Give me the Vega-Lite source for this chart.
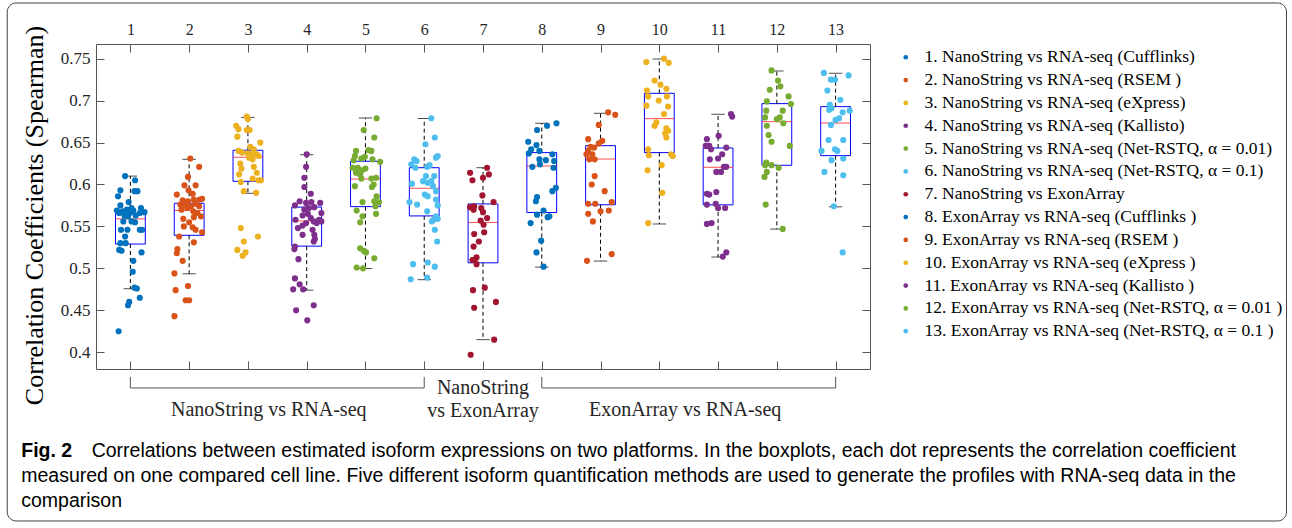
{
  "$schema": "https://vega.github.io/schema/vega-lite/v6.json",
  "width": 774,
  "height": 325,
  "autosize": {"type": "none"},
  "padding": {"left": 96, "top": 44, "right": 422, "bottom": 159},
  "background": "white",
  "title": {
    "text": "Fig. 2",
    "subtitle": [
      "\u200b\u00a0\u00a0\u00a0\u00a0\u00a0\u00a0\u00a0\u00a0\u00a0\u00a0\u00a0\u00a0\u00a0Correlations between estimated isoform expressions on two platforms. In the boxplots, each dot represents the correlation coefficient",
      "measured on one compared cell line. Five different isoform quantification methods are used to generate the profiles with RNA-seq data in the",
      "comparison"
    ],
    "orient": "bottom",
    "anchor": "start",
    "frame": "bounds",
    "offset": -79.5,
    "dx": 14.5,
    "font": "Liberation Sans",
    "fontSize": 19.5,
    "fontWeight": "bold",
    "color": "#000000",
    "subtitleFont": "Liberation Sans",
    "subtitleFontSize": 19.5,
    "subtitleColor": "#000000",
    "subtitleLineHeight": 25,
    "subtitlePadding": -19.5
  },
  "datasets": {
    "boxes": [
      {"g": 1, "label": "\u20071. NanoString vs RNA-seq (Cufflinks)", "lower": 0.4757, "q1": 0.529, "med": 0.559, "q3": 0.565, "upper": 0.61},
      {"g": 2, "label": "\u20072. NanoString vs RNA-seq (RSEM )", "lower": 0.4935, "q1": 0.5394, "med": 0.569, "q3": 0.5776, "upper": 0.63},
      {"g": 3, "label": "\u20073. NanoString vs RNA-seq (eXpress)", "lower": 0.5895, "q1": 0.6038, "med": 0.6325, "q3": 0.6408, "upper": 0.68},
      {"g": 4, "label": "\u20074. NanoString vs RNA-seq (Kallisto)", "lower": 0.474, "q1": 0.5265, "med": 0.5565, "q3": 0.573, "upper": 0.6355},
      {"g": 5, "label": "\u20075. NanoString vs RNA-seq (Net-RSTQ, α = 0.01)", "lower": 0.4998, "q1": 0.5736, "med": 0.6065, "q3": 0.6277, "upper": 0.6793},
      {"g": 6, "label": "\u20076. NanoString vs RNA-seq (Net-RSTQ, α = 0.1)", "lower": 0.4865, "q1": 0.5625, "med": 0.5955, "q3": 0.62, "upper": 0.6787},
      {"g": 7, "label": "\u20077. NanoString vs ExonArray", "lower": 0.415, "q1": 0.5066, "med": 0.5548, "q3": 0.5768, "upper": 0.62},
      {"g": 8, "label": "\u20078. ExonArray vs RNA-seq (Cufflinks )", "lower": 0.5015, "q1": 0.5666, "med": 0.622, "q3": 0.638, "upper": 0.673},
      {"g": 9, "label": "\u20079. ExonArray vs RNA-seq (RSEM )", "lower": 0.5087, "q1": 0.5758, "med": 0.6304, "q3": 0.6463, "upper": 0.6849},
      {"g": 10, "label": "10. ExonArray vs RNA-seq (eXpress )", "lower": 0.5529, "q1": 0.638, "med": 0.6785, "q3": 0.7087, "upper": 0.7496},
      {"g": 11, "label": "11. ExonArray vs RNA-seq (Kallisto )", "lower": 0.5135, "q1": 0.5757, "med": 0.6205, "q3": 0.6435, "upper": 0.6837},
      {"g": 12, "label": "12. ExonArray vs RNA-seq (Net-RSTQ, α = 0.01 )", "lower": 0.5468, "q1": 0.6229, "med": 0.6749, "q3": 0.6964, "upper": 0.7353},
      {"g": 13, "label": "13. ExonArray vs RNA-seq (Net-RSTQ, α = 0.1 )", "lower": 0.5734, "q1": 0.6344, "med": 0.6733, "q3": 0.6928, "upper": 0.7326}
    ],
    "points": [
      {"g":1,"x":0.91,"r":0.610},{"g":1,"x":1.08,"r":0.605},{"g":1,"x":0.83,"r":0.593},{"g":1,"x":1.07,"r":0.592},{"g":1,"x":1.12,"r":0.592},{"g":1,"x":0.79,"r":0.586},{"g":1,"x":0.97,"r":0.579},{"g":1,"x":0.83,"r":0.575},{"g":1,"x":0.77,"r":0.569},{"g":1,"x":0.87,"r":0.568},{"g":1,"x":0.94,"r":0.570},{"g":1,"x":1.02,"r":0.572},{"g":1,"x":1.05,"r":0.569},{"g":1,"x":1.18,"r":0.572},{"g":1,"x":1.24,"r":0.567},{"g":1,"x":1.16,"r":0.566},{"g":1,"x":0.81,"r":0.566},{"g":1,"x":0.90,"r":0.563},{"g":1,"x":0.99,"r":0.566},{"g":1,"x":1.09,"r":0.563},{"g":1,"x":0.96,"r":0.562},{"g":1,"x":0.88,"r":0.556},{"g":1,"x":1.02,"r":0.556},{"g":1,"x":1.08,"r":0.555},{"g":1,"x":0.84,"r":0.546},{"g":1,"x":0.95,"r":0.546},{"g":1,"x":1.16,"r":0.546},{"g":1,"x":1.20,"r":0.546},{"g":1,"x":0.91,"r":0.538},{"g":1,"x":0.83,"r":0.530},{"g":1,"x":0.92,"r":0.530},{"g":1,"x":0.81,"r":0.522},{"g":1,"x":0.85,"r":0.521},{"g":1,"x":1.19,"r":0.519},{"g":1,"x":1.05,"r":0.509},{"g":1,"x":1.04,"r":0.496},{"g":1,"x":1.07,"r":0.477},{"g":1,"x":1.11,"r":0.476},{"g":1,"x":1.16,"r":0.465},{"g":1,"x":0.98,"r":0.460},{"g":1,"x":0.96,"r":0.456},{"g":1,"x":0.80,"r":0.425},
      {"g":2,"x":2.02,"r":0.631},{"g":2,"x":2.17,"r":0.621},{"g":2,"x":1.98,"r":0.609},{"g":2,"x":1.92,"r":0.599},{"g":2,"x":2.11,"r":0.599},{"g":2,"x":1.99,"r":0.593},{"g":2,"x":2.06,"r":0.589},{"g":2,"x":1.79,"r":0.588},{"g":2,"x":1.89,"r":0.581},{"g":2,"x":1.98,"r":0.580},{"g":2,"x":2.08,"r":0.582},{"g":2,"x":2.18,"r":0.582},{"g":2,"x":2.22,"r":0.583},{"g":2,"x":1.85,"r":0.576},{"g":2,"x":1.94,"r":0.575},{"g":2,"x":2.03,"r":0.574},{"g":2,"x":2.11,"r":0.577},{"g":2,"x":2.17,"r":0.574},{"g":2,"x":1.87,"r":0.570},{"g":2,"x":1.97,"r":0.572},{"g":2,"x":2.07,"r":0.568},{"g":2,"x":2.14,"r":0.566},{"g":2,"x":2.20,"r":0.562},{"g":2,"x":1.90,"r":0.559},{"g":2,"x":2.08,"r":0.561},{"g":2,"x":2.00,"r":0.555},{"g":2,"x":1.91,"r":0.550},{"g":2,"x":2.06,"r":0.549},{"g":2,"x":2.11,"r":0.546},{"g":2,"x":2.22,"r":0.543},{"g":2,"x":1.83,"r":0.538},{"g":2,"x":2.08,"r":0.531},{"g":2,"x":1.80,"r":0.523},{"g":2,"x":1.79,"r":0.518},{"g":2,"x":1.89,"r":0.509},{"g":2,"x":1.75,"r":0.494},{"g":2,"x":1.98,"r":0.479},{"g":2,"x":1.77,"r":0.474},{"g":2,"x":1.94,"r":0.462},{"g":2,"x":2.00,"r":0.462},{"g":2,"x":1.75,"r":0.443},
      {"g":3,"x":2.98,"r":0.681},{"g":3,"x":3.00,"r":0.678},{"g":3,"x":2.80,"r":0.670},{"g":3,"x":2.84,"r":0.666},{"g":3,"x":2.98,"r":0.665},{"g":3,"x":3.03,"r":0.665},{"g":3,"x":2.82,"r":0.657},{"g":3,"x":3.21,"r":0.650},{"g":3,"x":3.04,"r":0.645},{"g":3,"x":3.10,"r":0.642},{"g":3,"x":2.84,"r":0.640},{"g":3,"x":2.90,"r":0.638},{"g":3,"x":3.00,"r":0.637},{"g":3,"x":3.07,"r":0.636},{"g":3,"x":3.15,"r":0.636},{"g":3,"x":3.18,"r":0.634},{"g":3,"x":3.02,"r":0.632},{"g":3,"x":3.08,"r":0.630},{"g":3,"x":2.87,"r":0.625},{"g":3,"x":2.89,"r":0.619},{"g":3,"x":3.10,"r":0.621},{"g":3,"x":3.15,"r":0.614},{"g":3,"x":2.85,"r":0.612},{"g":3,"x":3.08,"r":0.607},{"g":3,"x":3.18,"r":0.605},{"g":3,"x":3.22,"r":0.605},{"g":3,"x":2.88,"r":0.603},{"g":3,"x":2.93,"r":0.592},{"g":3,"x":3.14,"r":0.590},{"g":3,"x":2.88,"r":0.548},{"g":3,"x":3.17,"r":0.538},{"g":3,"x":2.93,"r":0.532},{"g":3,"x":2.82,"r":0.522},{"g":3,"x":2.96,"r":0.519},{"g":3,"x":2.91,"r":0.515},
      {"g":4,"x":4.00,"r":0.636},{"g":4,"x":3.99,"r":0.621},{"g":4,"x":3.96,"r":0.608},{"g":4,"x":3.96,"r":0.597},{"g":4,"x":4.07,"r":0.589},{"g":4,"x":3.88,"r":0.580},{"g":4,"x":3.80,"r":0.575},{"g":4,"x":3.99,"r":0.578},{"g":4,"x":4.08,"r":0.579},{"g":4,"x":4.23,"r":0.578},{"g":4,"x":4.04,"r":0.572},{"g":4,"x":4.13,"r":0.573},{"g":4,"x":3.96,"r":0.570},{"g":4,"x":4.02,"r":0.565},{"g":4,"x":4.25,"r":0.566},{"g":4,"x":3.93,"r":0.563},{"g":4,"x":4.07,"r":0.560},{"g":4,"x":3.81,"r":0.558},{"g":4,"x":4.12,"r":0.556},{"g":4,"x":4.21,"r":0.558},{"g":4,"x":4.25,"r":0.556},{"g":4,"x":4.17,"r":0.554},{"g":4,"x":3.99,"r":0.554},{"g":4,"x":3.93,"r":0.551},{"g":4,"x":3.85,"r":0.548},{"g":4,"x":4.10,"r":0.546},{"g":4,"x":4.13,"r":0.540},{"g":4,"x":3.93,"r":0.540},{"g":4,"x":4.12,"r":0.532},{"g":4,"x":4.14,"r":0.535},{"g":4,"x":3.80,"r":0.526},{"g":4,"x":3.79,"r":0.523},{"g":4,"x":3.86,"r":0.511},{"g":4,"x":3.80,"r":0.488},{"g":4,"x":3.88,"r":0.481},{"g":4,"x":3.77,"r":0.475},{"g":4,"x":3.94,"r":0.475},{"g":4,"x":4.12,"r":0.456},{"g":4,"x":3.82,"r":0.450},{"g":4,"x":4.01,"r":0.438},
      {"g":5,"x":5.19,"r":0.679},{"g":5,"x":4.97,"r":0.665},{"g":5,"x":5.15,"r":0.656},{"g":5,"x":4.84,"r":0.640},{"g":5,"x":5.05,"r":0.641},{"g":5,"x":5.10,"r":0.640},{"g":5,"x":4.82,"r":0.634},{"g":5,"x":4.99,"r":0.633},{"g":5,"x":5.12,"r":0.630},{"g":5,"x":5.25,"r":0.627},{"g":5,"x":4.80,"r":0.629},{"g":5,"x":4.93,"r":0.631},{"g":5,"x":4.78,"r":0.620},{"g":5,"x":4.87,"r":0.620},{"g":5,"x":4.94,"r":0.617},{"g":5,"x":5.00,"r":0.619},{"g":5,"x":4.84,"r":0.614},{"g":5,"x":4.91,"r":0.612},{"g":5,"x":4.93,"r":0.607},{"g":5,"x":5.10,"r":0.607},{"g":5,"x":5.18,"r":0.608},{"g":5,"x":5.14,"r":0.600},{"g":5,"x":5.11,"r":0.597},{"g":5,"x":4.82,"r":0.598},{"g":5,"x":5.19,"r":0.586},{"g":5,"x":5.15,"r":0.580},{"g":5,"x":5.23,"r":0.579},{"g":5,"x":5.17,"r":0.574},{"g":5,"x":4.95,"r":0.579},{"g":5,"x":4.85,"r":0.569},{"g":5,"x":5.18,"r":0.565},{"g":5,"x":4.95,"r":0.562},{"g":5,"x":4.91,"r":0.555},{"g":5,"x":4.91,"r":0.524},{"g":5,"x":4.97,"r":0.521},{"g":5,"x":5.01,"r":0.519},{"g":5,"x":5.15,"r":0.512},{"g":5,"x":4.85,"r":0.501},{"g":5,"x":4.96,"r":0.500},
      {"g":6,"x":6.12,"r":0.679},{"g":6,"x":6.18,"r":0.656},{"g":6,"x":6.02,"r":0.648},{"g":6,"x":6.23,"r":0.634},{"g":6,"x":6.20,"r":0.632},{"g":6,"x":5.83,"r":0.630},{"g":6,"x":5.87,"r":0.628},{"g":6,"x":5.78,"r":0.624},{"g":6,"x":5.85,"r":0.620},{"g":6,"x":6.05,"r":0.621},{"g":6,"x":6.09,"r":0.623},{"g":6,"x":6.03,"r":0.610},{"g":6,"x":6.17,"r":0.610},{"g":6,"x":6.12,"r":0.604},{"g":6,"x":5.98,"r":0.604},{"g":6,"x":6.06,"r":0.602},{"g":6,"x":6.15,"r":0.598},{"g":6,"x":5.79,"r":0.601},{"g":6,"x":6.20,"r":0.592},{"g":6,"x":6.01,"r":0.588},{"g":6,"x":6.06,"r":0.586},{"g":6,"x":5.75,"r":0.579},{"g":6,"x":5.88,"r":0.576},{"g":6,"x":6.20,"r":0.582},{"g":6,"x":6.23,"r":0.575},{"g":6,"x":6.05,"r":0.568},{"g":6,"x":6.20,"r":0.562},{"g":6,"x":6.16,"r":0.558},{"g":6,"x":6.23,"r":0.559},{"g":6,"x":6.13,"r":0.556},{"g":6,"x":6.18,"r":0.546},{"g":6,"x":6.22,"r":0.532},{"g":6,"x":5.81,"r":0.505},{"g":6,"x":6.06,"r":0.507},{"g":6,"x":6.18,"r":0.502},{"g":6,"x":5.77,"r":0.487},{"g":6,"x":6.05,"r":0.489},
      {"g":7,"x":7.07,"r":0.620},{"g":7,"x":6.78,"r":0.614},{"g":7,"x":7.10,"r":0.612},{"g":7,"x":6.82,"r":0.605},{"g":7,"x":7.00,"r":0.608},{"g":7,"x":6.99,"r":0.587},{"g":7,"x":7.18,"r":0.579},{"g":7,"x":6.78,"r":0.573},{"g":7,"x":6.85,"r":0.574},{"g":7,"x":6.84,"r":0.570},{"g":7,"x":6.97,"r":0.572},{"g":7,"x":7.00,"r":0.567},{"g":7,"x":7.07,"r":0.560},{"g":7,"x":6.96,"r":0.557},{"g":7,"x":7.01,"r":0.552},{"g":7,"x":7.02,"r":0.543},{"g":7,"x":6.85,"r":0.541},{"g":7,"x":6.93,"r":0.532},{"g":7,"x":6.84,"r":0.526},{"g":7,"x":6.89,"r":0.513},{"g":7,"x":6.82,"r":0.510},{"g":7,"x":6.85,"r":0.510},{"g":7,"x":6.89,"r":0.505},{"g":7,"x":7.03,"r":0.477},{"g":7,"x":6.83,"r":0.474},{"g":7,"x":7.22,"r":0.460},{"g":7,"x":6.85,"r":0.453},{"g":7,"x":7.19,"r":0.415},{"g":7,"x":6.79,"r":0.397},
      {"g":8,"x":8.09,"r":0.670},{"g":8,"x":8.25,"r":0.673},{"g":8,"x":7.92,"r":0.665},{"g":8,"x":7.77,"r":0.651},{"g":8,"x":7.91,"r":0.647},{"g":8,"x":7.82,"r":0.642},{"g":8,"x":7.78,"r":0.637},{"g":8,"x":7.96,"r":0.640},{"g":8,"x":8.18,"r":0.636},{"g":8,"x":7.96,"r":0.630},{"g":8,"x":8.07,"r":0.629},{"g":8,"x":8.21,"r":0.628},{"g":8,"x":7.84,"r":0.621},{"g":8,"x":7.97,"r":0.624},{"g":8,"x":8.20,"r":0.620},{"g":8,"x":8.24,"r":0.596},{"g":8,"x":8.18,"r":0.592},{"g":8,"x":7.92,"r":0.585},{"g":8,"x":7.90,"r":0.580},{"g":8,"x":8.03,"r":0.569},{"g":8,"x":7.92,"r":0.564},{"g":8,"x":8.13,"r":0.562},{"g":8,"x":8.10,"r":0.561},{"g":8,"x":7.81,"r":0.554},{"g":8,"x":7.99,"r":0.533},{"g":8,"x":7.91,"r":0.519},{"g":8,"x":8.03,"r":0.502},
      {"g":9,"x":9.13,"r":0.686},{"g":9,"x":9.25,"r":0.683},{"g":9,"x":8.97,"r":0.671},{"g":9,"x":8.79,"r":0.654},{"g":9,"x":9.03,"r":0.652},{"g":9,"x":8.97,"r":0.649},{"g":9,"x":8.83,"r":0.645},{"g":9,"x":8.89,"r":0.644},{"g":9,"x":8.79,"r":0.640},{"g":9,"x":8.76,"r":0.636},{"g":9,"x":8.86,"r":0.636},{"g":9,"x":8.81,"r":0.630},{"g":9,"x":8.90,"r":0.630},{"g":9,"x":8.90,"r":0.610},{"g":9,"x":8.85,"r":0.600},{"g":9,"x":9.07,"r":0.592},{"g":9,"x":8.79,"r":0.577},{"g":9,"x":8.91,"r":0.577},{"g":9,"x":9.19,"r":0.579},{"g":9,"x":8.79,"r":0.565},{"g":9,"x":9.00,"r":0.568},{"g":9,"x":9.14,"r":0.569},{"g":9,"x":8.87,"r":0.556},{"g":9,"x":9.19,"r":0.517},{"g":9,"x":8.77,"r":0.509},
      {"g":10,"x":10.08,"r":0.750},{"g":10,"x":9.78,"r":0.746},{"g":10,"x":10.16,"r":0.745},{"g":10,"x":9.92,"r":0.724},{"g":10,"x":10.02,"r":0.719},{"g":10,"x":10.12,"r":0.714},{"g":10,"x":9.79,"r":0.712},{"g":10,"x":9.81,"r":0.705},{"g":10,"x":10.13,"r":0.705},{"g":10,"x":9.99,"r":0.700},{"g":10,"x":9.78,"r":0.694},{"g":10,"x":10.15,"r":0.693},{"g":10,"x":10.08,"r":0.684},{"g":10,"x":9.95,"r":0.674},{"g":10,"x":9.92,"r":0.670},{"g":10,"x":10.12,"r":0.667},{"g":10,"x":10.15,"r":0.664},{"g":10,"x":10.10,"r":0.661},{"g":10,"x":10.12,"r":0.656},{"g":10,"x":9.81,"r":0.642},{"g":10,"x":9.82,"r":0.635},{"g":10,"x":10.20,"r":0.636},{"g":10,"x":10.23,"r":0.634},{"g":10,"x":9.80,"r":0.617},{"g":10,"x":10.04,"r":0.623},{"g":10,"x":10.05,"r":0.590},{"g":10,"x":9.81,"r":0.554},
      {"g":11,"x":11.22,"r":0.684},{"g":11,"x":11.24,"r":0.681},{"g":11,"x":11.01,"r":0.658},{"g":11,"x":10.81,"r":0.654},{"g":11,"x":10.79,"r":0.646},{"g":11,"x":10.85,"r":0.646},{"g":11,"x":10.88,"r":0.642},{"g":11,"x":11.14,"r":0.644},{"g":11,"x":11.07,"r":0.636},{"g":11,"x":11.00,"r":0.631},{"g":11,"x":10.86,"r":0.630},{"g":11,"x":11.10,"r":0.621},{"g":11,"x":11.14,"r":0.621},{"g":11,"x":10.97,"r":0.615},{"g":11,"x":11.05,"r":0.615},{"g":11,"x":10.81,"r":0.589},{"g":11,"x":10.85,"r":0.588},{"g":11,"x":10.97,"r":0.591},{"g":11,"x":10.81,"r":0.576},{"g":11,"x":10.96,"r":0.577},{"g":11,"x":11.00,"r":0.572},{"g":11,"x":11.12,"r":0.572},{"g":11,"x":10.81,"r":0.553},{"g":11,"x":10.89,"r":0.554},{"g":11,"x":11.14,"r":0.519},{"g":11,"x":11.08,"r":0.514},
      {"g":12,"x":11.91,"r":0.736},{"g":12,"x":12.02,"r":0.724},{"g":12,"x":12.06,"r":0.717},{"g":12,"x":11.88,"r":0.713},{"g":12,"x":12.20,"r":0.705},{"g":12,"x":11.83,"r":0.699},{"g":12,"x":12.24,"r":0.696},{"g":12,"x":11.82,"r":0.688},{"g":12,"x":12.10,"r":0.688},{"g":12,"x":11.80,"r":0.680},{"g":12,"x":12.05,"r":0.680},{"g":12,"x":12.00,"r":0.678},{"g":12,"x":12.11,"r":0.673},{"g":12,"x":11.83,"r":0.670},{"g":12,"x":11.86,"r":0.659},{"g":12,"x":11.91,"r":0.651},{"g":12,"x":12.22,"r":0.646},{"g":12,"x":11.82,"r":0.626},{"g":12,"x":11.80,"r":0.623},{"g":12,"x":11.91,"r":0.623},{"g":12,"x":12.03,"r":0.620},{"g":12,"x":11.83,"r":0.615},{"g":12,"x":11.79,"r":0.609},{"g":12,"x":11.81,"r":0.576},{"g":12,"x":12.10,"r":0.547},
      {"g":13,"x":12.80,"r":0.733},{"g":13,"x":13.22,"r":0.730},{"g":13,"x":12.92,"r":0.725},{"g":13,"x":12.99,"r":0.725},{"g":13,"x":12.86,"r":0.712},{"g":13,"x":13.08,"r":0.701},{"g":13,"x":12.90,"r":0.695},{"g":13,"x":12.93,"r":0.691},{"g":13,"x":12.89,"r":0.689},{"g":13,"x":13.24,"r":0.688},{"g":13,"x":13.12,"r":0.686},{"g":13,"x":13.00,"r":0.677},{"g":13,"x":13.06,"r":0.679},{"g":13,"x":12.92,"r":0.671},{"g":13,"x":12.88,"r":0.653},{"g":13,"x":13.13,"r":0.653},{"g":13,"x":12.76,"r":0.640},{"g":13,"x":12.99,"r":0.642},{"g":13,"x":13.03,"r":0.640},{"g":13,"x":13.13,"r":0.631},{"g":13,"x":12.93,"r":0.629},{"g":13,"x":12.81,"r":0.615},{"g":13,"x":13.13,"r":0.611},{"g":13,"x":12.97,"r":0.574},{"g":13,"x":13.12,"r":0.519}
    ]
  },
  "layer": [
    {
      "data": {"name": "boxes"},
      "mark": {"type": "bar", "width": 29.8, "fill": "white", "fillOpacity": 0, "stroke": "#0000ff", "strokeWidth": 1},
      "encoding": {
        "x": {"field": "g", "type": "quantitative", "scale": {"domain": [0.5, 13.5], "nice": false, "zero": false},
          "axis": {"orient": "bottom", "values": [1,2,3,4,5,6,7,8,9,10,11,12,13], "labels": false, "tickSize": -8, "title": null}},
        "y": {"field": "q1", "type": "quantitative", "scale": {"domain": [0.38, 0.7675], "nice": false, "zero": false},
          "axis": {"orient": "left", "values": [0.4,0.45,0.5,0.55,0.6,0.65,0.7,0.75], "format": ".2~f", "tickSize": -8, "labelPadding": 14,
            "labelFontSize": 17, "labelColor": "#262626",
            "title": "Correlation Coefficients (Spearman)", "titleFontSize": 26, "titleFontWeight": "normal", "titleColor": "#000000", "titlePadding": 13, "titleY": 171}},
        "y2": {"field": "q3"}
      }
    },
    {
      "data": {"name": "boxes"},
      "mark": {"type": "tick", "orient": "horizontal", "size": 29.8, "thickness": 1, "color": "#ff0000"},
      "encoding": {
        "x": {"field": "g", "type": "quantitative", "scale": {"domain": [0.5, 13.5], "nice": false, "zero": false},
          "axis": {"orient": "top", "values": [1,2,3,4,5,6,7,8,9,10,11,12,13], "format": "d", "tickSize": -8, "labelPadding": 15, "labelFontSize": 16, "labelColor": "#262626", "title": null}},
        "y": {"field": "med", "type": "quantitative", "scale": {"domain": [0.38, 0.7675], "nice": false, "zero": false},
          "axis": {"orient": "right", "values": [0.4,0.45,0.5,0.55,0.6,0.65,0.7,0.75], "labels": false, "tickSize": -8, "title": null}}
      }
    },
    {
      "data": {"name": "boxes"},
      "mark": {"type": "rule", "strokeDash": [4, 3], "color": "#000000", "strokeWidth": 1},
      "encoding": {
        "x": {"field": "g", "type": "quantitative", "scale": {"domain": [0.5, 13.5], "nice": false, "zero": false}, "axis": null},
        "y": {"field": "q3", "type": "quantitative", "scale": {"domain": [0.38, 0.7675], "nice": false, "zero": false}, "axis": null},
        "y2": {"field": "upper"}
      }
    },
    {
      "data": {"name": "boxes"},
      "mark": {"type": "rule", "strokeDash": [4, 3], "color": "#000000", "strokeWidth": 1},
      "encoding": {
        "x": {"field": "g", "type": "quantitative", "scale": {"domain": [0.5, 13.5], "nice": false, "zero": false}, "axis": null},
        "y": {"field": "q1", "type": "quantitative", "scale": {"domain": [0.38, 0.7675], "nice": false, "zero": false}, "axis": null},
        "y2": {"field": "lower"}
      }
    },
    {
      "data": {"name": "boxes"},
      "mark": {"type": "tick", "orient": "horizontal", "size": 13.4, "thickness": 1, "color": "#000000"},
      "encoding": {
        "x": {"field": "g", "type": "quantitative", "scale": {"domain": [0.5, 13.5], "nice": false, "zero": false}, "axis": null},
        "y": {"field": "upper", "type": "quantitative", "scale": {"domain": [0.38, 0.7675], "nice": false, "zero": false}, "axis": null}
      }
    },
    {
      "data": {"name": "boxes"},
      "mark": {"type": "tick", "orient": "horizontal", "size": 13.4, "thickness": 1, "color": "#000000"},
      "encoding": {
        "x": {"field": "g", "type": "quantitative", "scale": {"domain": [0.5, 13.5], "nice": false, "zero": false}, "axis": null},
        "y": {"field": "lower", "type": "quantitative", "scale": {"domain": [0.38, 0.7675], "nice": false, "zero": false}, "axis": null}
      }
    },
    {
      "data": {"name": "points"},
      "transform": [{"lookup": "g", "from": {"data": {"name": "boxes"}, "key": "g", "fields": ["label"]}}],
      "mark": {"type": "circle", "size": 38, "opacity": 1},
      "encoding": {
        "x": {"field": "x", "type": "quantitative", "scale": {"domain": [0.5, 13.5], "nice": false, "zero": false}, "axis": null},
        "y": {"field": "r", "type": "quantitative", "scale": {"domain": [0.38, 0.7675], "nice": false, "zero": false}, "axis": null},
        "color": {
          "field": "label", "type": "nominal",
          "scale": {
            "domain": [
              "\u20071. NanoString vs RNA-seq (Cufflinks)",
              "\u20072. NanoString vs RNA-seq (RSEM )",
              "\u20073. NanoString vs RNA-seq (eXpress)",
              "\u20074. NanoString vs RNA-seq (Kallisto)",
              "\u20075. NanoString vs RNA-seq (Net-RSTQ, α = 0.01)",
              "\u20076. NanoString vs RNA-seq (Net-RSTQ, α = 0.1)",
              "\u20077. NanoString vs ExonArray",
              "\u20078. ExonArray vs RNA-seq (Cufflinks )",
              "\u20079. ExonArray vs RNA-seq (RSEM )",
              "10. ExonArray vs RNA-seq (eXpress )",
              "11. ExonArray vs RNA-seq (Kallisto )",
              "12. ExonArray vs RNA-seq (Net-RSTQ, α = 0.01 )",
              "13. ExonArray vs RNA-seq (Net-RSTQ, α = 0.1 )"
            ],
            "range": ["#0072BD", "#D95319", "#EDB120", "#7E2F8E", "#77AC30", "#4DBEEE", "#A2142F", "#0072BD", "#D95319", "#EDB120", "#7E2F8E", "#77AC30", "#4DBEEE"]
          },
          "legend": {
            "orient": "none", "legendX": 801, "legendY": 4.5, "title": null,
            "symbolType": "circle", "symbolSize": 22, "symbolStrokeWidth": 0,
            "labelFont": "Liberation Serif", "labelFontSize": 17.5, "labelColor": "#000000", "labelLimit": 0,
            "labelOffset": 10, "rowPadding": 3.83, "padding": 0
          }
        }
      }
    },
    {
      "data": {"values": [{}]},
      "mark": {"type": "rule", "color": "#555555", "strokeWidth": 1},
      "encoding": {
        "x": {"datum": 1, "type": "quantitative", "scale": {"domain": [0.5, 13.5], "nice": false, "zero": false}, "axis": null},
        "x2": {"datum": 6},
        "y": {"datum": 0.3574, "type": "quantitative", "scale": {"domain": [0.38, 0.7675], "nice": false, "zero": false}, "axis": null}
      }
    },
    {
      "data": {"values": [{}]},
      "mark": {"type": "rule", "color": "#555555", "strokeWidth": 1},
      "encoding": {
        "x": {"datum": 8, "type": "quantitative", "scale": {"domain": [0.5, 13.5], "nice": false, "zero": false}, "axis": null},
        "x2": {"datum": 13},
        "y": {"datum": 0.3574, "type": "quantitative", "scale": {"domain": [0.38, 0.7675], "nice": false, "zero": false}, "axis": null}
      }
    },
    {
      "data": {"values": [{}]},
      "mark": {"type": "rule", "color": "#555555", "strokeWidth": 1},
      "encoding": {
        "x": {"datum": 1, "type": "quantitative", "scale": {"domain": [0.5, 13.5], "nice": false, "zero": false}, "axis": null},
        "y": {"datum": 0.3574, "type": "quantitative", "scale": {"domain": [0.38, 0.7675], "nice": false, "zero": false}, "axis": null},
        "y2": {"datum": 0.3705}
      }
    },
    {
      "data": {"values": [{}]},
      "mark": {"type": "rule", "color": "#555555", "strokeWidth": 1},
      "encoding": {
        "x": {"datum": 6, "type": "quantitative", "scale": {"domain": [0.5, 13.5], "nice": false, "zero": false}, "axis": null},
        "y": {"datum": 0.3574, "type": "quantitative", "scale": {"domain": [0.38, 0.7675], "nice": false, "zero": false}, "axis": null},
        "y2": {"datum": 0.3705}
      }
    },
    {
      "data": {"values": [{}]},
      "mark": {"type": "rule", "color": "#555555", "strokeWidth": 1},
      "encoding": {
        "x": {"datum": 8, "type": "quantitative", "scale": {"domain": [0.5, 13.5], "nice": false, "zero": false}, "axis": null},
        "y": {"datum": 0.3574, "type": "quantitative", "scale": {"domain": [0.38, 0.7675], "nice": false, "zero": false}, "axis": null},
        "y2": {"datum": 0.3705}
      }
    },
    {
      "data": {"values": [{}]},
      "mark": {"type": "rule", "color": "#555555", "strokeWidth": 1},
      "encoding": {
        "x": {"datum": 13, "type": "quantitative", "scale": {"domain": [0.5, 13.5], "nice": false, "zero": false}, "axis": null},
        "y": {"datum": 0.3574, "type": "quantitative", "scale": {"domain": [0.38, 0.7675], "nice": false, "zero": false}, "axis": null},
        "y2": {"datum": 0.3705}
      }
    },
    {
      "data": {"values": [{}]},
      "mark": {"type": "text", "text": "NanoString vs RNA-seq", "font": "Liberation Serif", "fontSize": 20, "color": "#262626", "align": "center", "baseline": "middle"},
      "encoding": {
        "x": {"datum": 3.354, "type": "quantitative", "scale": {"domain": [0.5, 13.5], "nice": false, "zero": false}, "axis": null},
        "y": {"datum": 0.3312, "type": "quantitative", "scale": {"domain": [0.38, 0.7675], "nice": false, "zero": false}, "axis": null}
      }
    },
    {
      "data": {"values": [{}]},
      "mark": {"type": "text", "text": ["NanoString", "vs ExonArray"], "lineHeight": 23, "font": "Liberation Serif", "fontSize": 20, "color": "#262626", "align": "center", "baseline": "middle"},
      "encoding": {
        "x": {"datum": 7, "type": "quantitative", "scale": {"domain": [0.5, 13.5], "nice": false, "zero": false}, "axis": null},
        "y": {"datum": 0.3574, "type": "quantitative", "scale": {"domain": [0.38, 0.7675], "nice": false, "zero": false}, "axis": null}
      }
    },
    {
      "data": {"values": [{}]},
      "mark": {"type": "text", "text": "ExonArray vs RNA-seq", "font": "Liberation Serif", "fontSize": 20, "color": "#262626", "align": "center", "baseline": "middle"},
      "encoding": {
        "x": {"datum": 10.44, "type": "quantitative", "scale": {"domain": [0.5, 13.5], "nice": false, "zero": false}, "axis": null},
        "y": {"datum": 0.3312, "type": "quantitative", "scale": {"domain": [0.38, 0.7675], "nice": false, "zero": false}, "axis": null}
      }
    },
    {
      "data": {"values": [{}]},
      "mark": {"type": "rect", "fill": "transparent", "stroke": "#444444", "strokeWidth": 1, "cornerRadius": 9},
      "encoding": {
        "x": {"datum": -1.0956, "type": "quantitative", "scale": {"domain": [0.5, 13.5], "nice": false, "zero": false}, "axis": null},
        "x2": {"datum": 20.672},
        "y": {"datum": 0.8164, "type": "quantitative", "scale": {"domain": [0.38, 0.7675], "nice": false, "zero": false}, "axis": null},
        "y2": {"datum": 0.1988}
      }
    }
  ],
  "resolve": {"axis": {"x": "independent", "y": "independent"}},
  "config": {
    "view": {"stroke": null},
    "font": "Liberation Serif",
    "axis": {"grid": false, "domainColor": "#555555", "tickColor": "#555555", "labelFont": "Liberation Serif", "titleFont": "Liberation Serif"}
  }
}
